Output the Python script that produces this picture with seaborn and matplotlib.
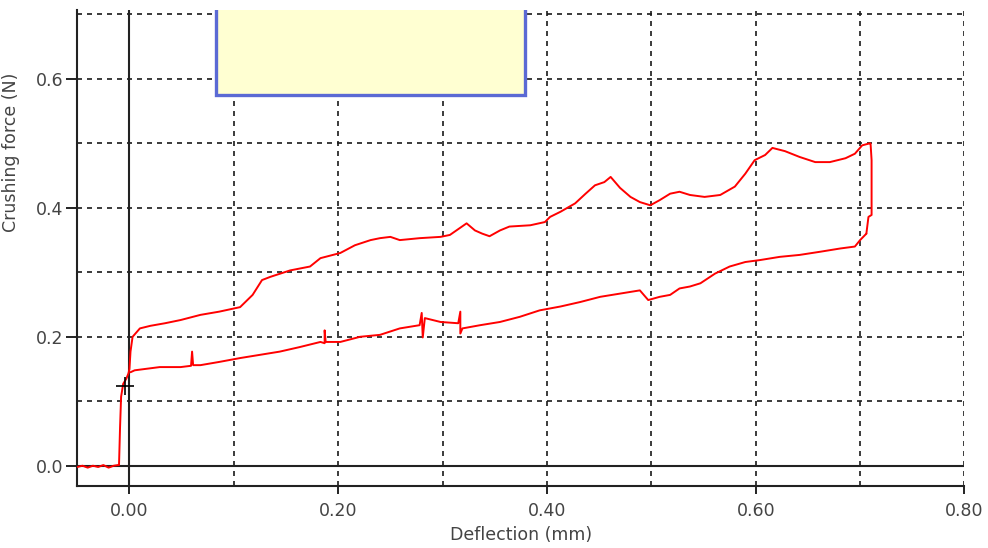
import matplotlib
matplotlib.use("Agg")
import matplotlib.pyplot as plt
from matplotlib.patches import Rectangle
from matplotlib.ticker import MultipleLocator, FormatStrFormatter
import seaborn as sns

# loading branch (deflection mm, force N)
load_x = [-0.050, -0.045, -0.040, -0.035, -0.030, -0.025, -0.020, -0.015, -0.011,
          -0.010, -0.009, -0.008, -0.006, -0.003, -0.001, 0.000,
          0.001, 0.003, 0.010, 0.020, 0.034, 0.049, 0.068, 0.086, 0.106, 0.118,
          0.127, 0.135, 0.154, 0.173, 0.183, 0.202, 0.216, 0.231, 0.240, 0.250,
          0.259, 0.278, 0.298, 0.307, 0.323, 0.331, 0.338, 0.345, 0.355, 0.364,
          0.384, 0.398, 0.403, 0.413, 0.427, 0.437, 0.446, 0.455, 0.461, 0.470,
          0.480, 0.489, 0.499, 0.508, 0.518, 0.527, 0.537, 0.551, 0.566, 0.580,
          0.590, 0.599, 0.609, 0.616, 0.628, 0.642, 0.657, 0.671, 0.686, 0.695,
          0.702, 0.709, 0.710, 0.711, 0.711, 0.708, 0.706]
load_y = [-0.002, 0.000, -0.003, 0.000, -0.002, 0.001, -0.003, 0.000, 0.001,
          0.001, 0.060, 0.107, 0.127, 0.135, 0.143, 0.150,
          0.177, 0.200, 0.213, 0.217, 0.221, 0.226, 0.234, 0.239, 0.246, 0.265,
          0.288, 0.293, 0.303, 0.309, 0.322, 0.330, 0.342, 0.350, 0.353, 0.355,
          0.350, 0.353, 0.355, 0.358, 0.376, 0.365, 0.360, 0.356, 0.365, 0.371,
          0.373, 0.378, 0.386, 0.394, 0.407, 0.422, 0.435, 0.440, 0.448, 0.431,
          0.417, 0.409, 0.404, 0.412, 0.422, 0.425, 0.420, 0.417, 0.420, 0.433,
          0.453, 0.474, 0.482, 0.493, 0.488, 0.479, 0.471, 0.471, 0.477, 0.484,
          0.497, 0.500, 0.500, 0.474, 0.389, 0.386, 0.360]

# unloading branch
unload_x = [0.706, 0.700, 0.695, 0.681, 0.662, 0.642, 0.623, 0.604, 0.590, 0.575,
            0.561, 0.547, 0.537, 0.527, 0.518, 0.508, 0.497, 0.489, 0.470, 0.451,
            0.432, 0.413, 0.393, 0.374, 0.355, 0.336, 0.319, 0.317, 0.317, 0.315,
            0.298, 0.283, 0.281, 0.280, 0.278, 0.259, 0.240, 0.221, 0.202, 0.188,
            0.187, 0.187, 0.183, 0.163, 0.144, 0.125, 0.106, 0.086, 0.068, 0.061,
            0.060, 0.059, 0.049, 0.029, 0.005, 0.001]
unload_y = [0.360, 0.350, 0.340, 0.337, 0.332, 0.327, 0.324, 0.319, 0.316, 0.309,
            0.298, 0.283, 0.278, 0.275, 0.265, 0.262, 0.257, 0.272, 0.267, 0.262,
            0.254, 0.247, 0.241, 0.231, 0.223, 0.218, 0.213, 0.205, 0.239, 0.221,
            0.223, 0.229, 0.199, 0.237, 0.218, 0.213, 0.203, 0.200, 0.192, 0.192,
            0.210, 0.190, 0.192, 0.184, 0.177, 0.172, 0.167, 0.161, 0.156, 0.156,
            0.177, 0.155, 0.153, 0.153, 0.148, 0.145]

cursor_x = [-0.004]
cursor_y = [0.124]

sns.set_theme(style="white")
plt.rcParams['font.family'] = ['DejaVu Sans']

fig = plt.figure(figsize=(9.88, 5.48), dpi=100)
ax = fig.add_axes([0.0782, 0.1137, 0.8980, 0.8681])

sns.lineplot(x=load_x, y=load_y, sort=False, estimator=None, color='#ff0000',
             linewidth=1.4, ax=ax, zorder=3)
sns.lineplot(x=unload_x, y=unload_y, sort=False, estimator=None, color='#ff0000',
             linewidth=1.4, ax=ax, zorder=3)
ax.plot(cursor_x, cursor_y, marker='+', color='black', markersize=13, mew=1.2,
        linestyle='none', zorder=4)

ax.set_xlim(-0.05, 0.80)
ax.set_ylim(-0.031, 0.707)

ax.xaxis.set_major_locator(MultipleLocator(0.2))
ax.xaxis.set_minor_locator(MultipleLocator(0.1))
ax.yaxis.set_major_locator(MultipleLocator(0.2))
ax.yaxis.set_minor_locator(MultipleLocator(0.1))
ax.xaxis.set_major_formatter(FormatStrFormatter('%.2f'))
ax.yaxis.set_major_formatter(FormatStrFormatter('%.1f'))

ax.grid(which='both', color='#1a1a1a', linestyle=(0, (3, 3)), linewidth=1.2)
ax.axhline(0, color='#222222', linewidth=1.5, zorder=2)
ax.axvline(0, color='#222222', linewidth=1.5, zorder=2)

for s in ['top', 'right']:
    ax.spines[s].set_visible(False)
for s in ['left', 'bottom']:
    ax.spines[s].set_color('#222222')
    ax.spines[s].set_linewidth(1.5)

ax.tick_params(axis='x', which='major', direction='out', length=6, width=1.4,
               color='#222222', pad=6, labelsize=12.5, labelcolor='#444444', bottom=True)
ax.tick_params(axis='y', which='major', direction='out', length=8, width=1.4,
               color='#222222', pad=2, labelsize=12.5, labelcolor='#444444', left=True)
ax.tick_params(which='minor', length=0)

ax.set_xlabel('Deflection (mm)', fontsize=12.5, color='#444444')
ax.set_ylabel('Crushing force (N)', fontsize=12.5, color='#444444')
ax.yaxis.set_label_coords(-0.064, 0.70)

# yellow info box sitting on top of the plot
ax.add_patch(Rectangle((0.083, 0.575), 0.296, 0.2, facecolor='#ffffd2',
                       edgecolor='#5b6ad4', linewidth=2.4, zorder=5, clip_on=True))

fig.savefig('out.png', dpi=100)
